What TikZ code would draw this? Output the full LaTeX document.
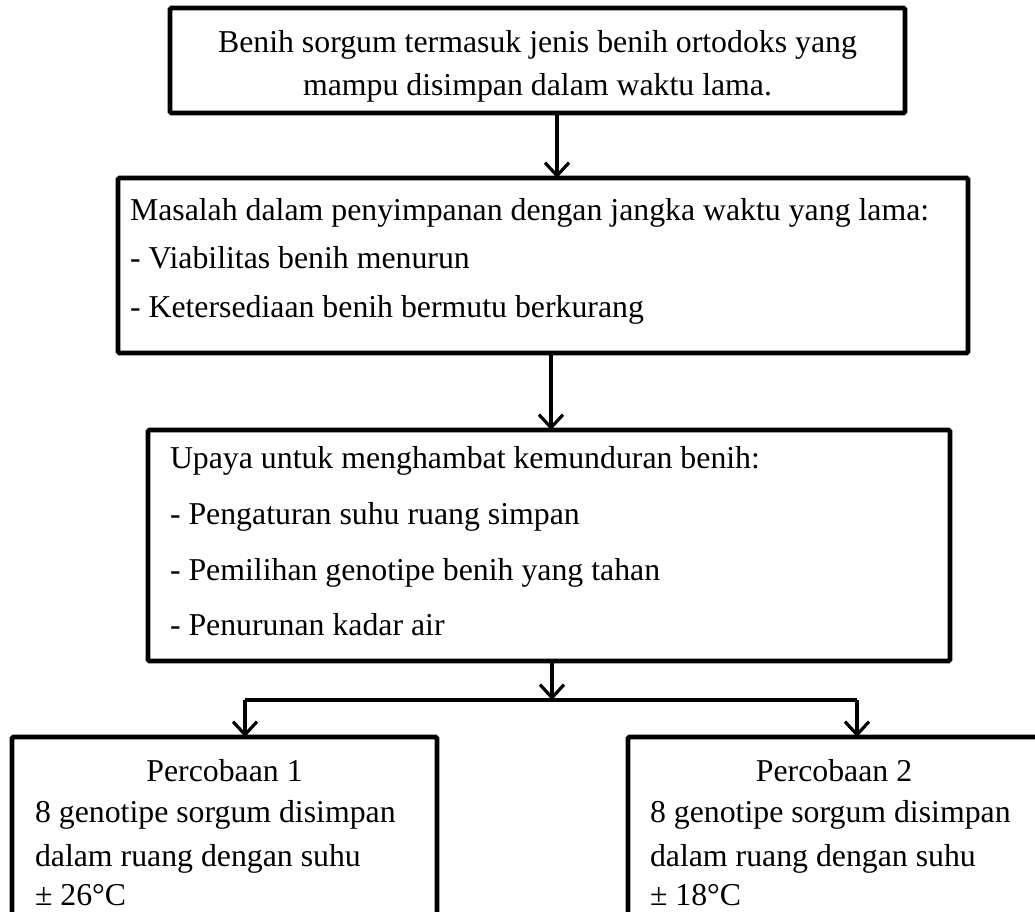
\documentclass[tikz,border=0pt]{standalone}
\usepackage{fontspec}
\setmainfont{Liberation Serif}
\usetikzlibrary{arrows.meta}
\begin{document}
\begin{tikzpicture}[x=1pt,y=-1pt,
  box/.style={draw,line width=4.7pt,inner sep=0pt,outer sep=0pt,rounded corners=1.5pt},
  txt/.style={inner sep=0pt,outer sep=0pt,font=\fontsize{31.8}{38}\selectfont},
  arr/.style={line width=3.2pt,-{Straight Barb[length=13pt,width=24pt]}},
  link/.style={line width=4pt}]
\useasboundingbox (0,0) rectangle (1035,911);
\clip (0,0) rectangle (1035,911);
% boxes
\node[box,minimum width=735pt,minimum height=105pt] (b1) at (537.5,60.5) {};
\node[box,minimum width=850pt,minimum height=175pt] (b2) at (543,265.5) {};
\node[box,minimum width=802pt,minimum height=231pt] (b3) at (549,545.5) {};
\node[box,minimum width=425pt,minimum height=223pt] (b4) at (224.5,848.5) {};
\node[box,minimum width=412pt,minimum height=223pt] (b5) at (834,848.5) {};
% texts
\node[txt,anchor=base] (t1a) at (537.5,52) {Benih sorgum termasuk jenis benih ortodoks yang};
\node[txt,anchor=base] (t1b) at (537.5,95) {mampu disimpan dalam waktu lama.};
\node[txt,anchor=base west] (t2a) at (130,220.7) {Masalah dalam penyimpanan dengan jangka waktu yang lama:};
\node[txt,anchor=base west] (t2b) at (130,268.5) {- Viabilitas benih menurun};
\node[txt,anchor=base west] (t2c) at (130,317) {- Ketersediaan benih bermutu berkurang};
\node[txt,anchor=base west] (t3a) at (170,468.5) {Upaya untuk menghambat kemunduran benih:};
\node[txt,anchor=base west] (t3b) at (170,524) {- Pengaturan suhu ruang simpan};
\node[txt,anchor=base west] (t3c) at (170,580) {- Pemilihan genotipe benih yang tahan};
\node[txt,anchor=base west] (t3d) at (170,635) {- Penurunan kadar air};
\node[txt,anchor=base] (t4a) at (224.5,781.5) {Percobaan 1};
\node[txt,anchor=base west] (t4b) at (35,822) {8 genotipe sorgum disimpan};
\node[txt,anchor=base west] (t4c) at (35,866) {dalam ruang dengan suhu};
\node[txt,anchor=base west] (t4d) at (35,905) {± 26°C};
\node[txt,anchor=base] (t5a) at (834,781.5) {Percobaan 2};
\node[txt,anchor=base west] (t5b) at (650,822) {8 genotipe sorgum disimpan};
\node[txt,anchor=base west] (t5c) at (650,866) {dalam ruang dengan suhu};
\node[txt,anchor=base west] (t5d) at (650,905) {± 18°C};
% connectors
\coordinate (a1) at (557,0);
\coordinate (a2) at (551,0);
\coordinate (a3) at (552,0);
\coordinate (j) at (552,700);
\coordinate (jl) at (245,700);
\coordinate (jr) at (857,700);
\draw[arr] (a1 |- b1.south) -- (a1 |- b2.north);
\draw[arr] (a2 |- b2.south) -- (a2 |- b3.north);
\draw[arr] (a3 |- b3.south) -- (j);
\draw[link] (jl) -- (jr);
\draw[arr] (jl) -- (jl |- b4.north);
\draw[arr] (jr) -- (jr |- b5.north);
\end{tikzpicture}
\end{document}
